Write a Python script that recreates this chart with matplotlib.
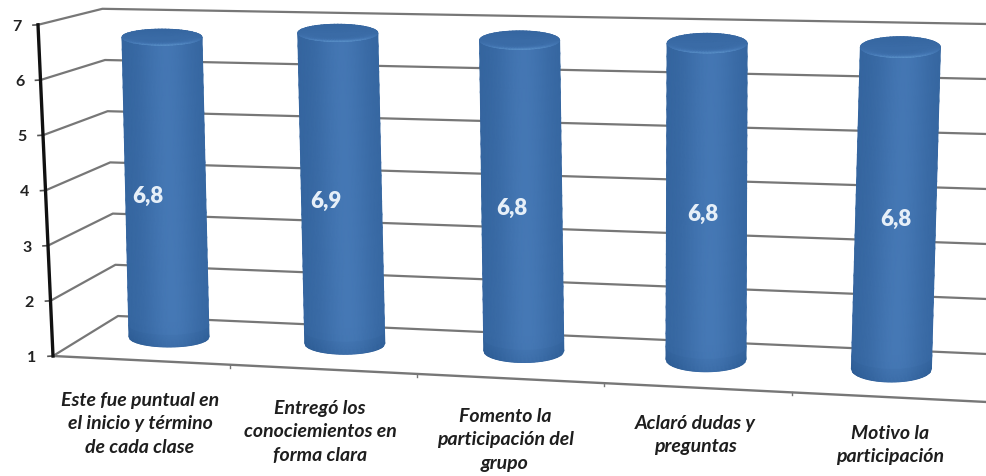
import numpy as np
import matplotlib
matplotlib.use("Agg")
import matplotlib.pyplot as plt
from matplotlib.colors import LinearSegmentedColormap

categories = [
    "Este fue puntual en\nel inicio y término\nde cada clase",
    "Entregó los\nconociemientos en\nforma clara",
    "Fomento la\nparticipación del\ngrupo",
    "Aclaró dudas y\npreguntas",
    "Motivo la\nparticipación",
]
values = [6.8, 6.9, 6.8, 6.8, 6.8]
value_labels = ["6,8", "6,9", "6,8", "6,8", "6,8"]
y_ticks = [1, 2, 3, 4, 5, 6, 7]

W, H = 987, 477
FONT = "Lato"

# --- perspective of the 3-D scene, in image pixels ---
def axis_pt(v):
    return 53 - 2.5 * (v - 1), 357 - 55.2 * (v - 1)
def wall_left(v):
    return 118 - 2.6 * (v - 1), 317 - 51.2 * (v - 1)
def wall_right_y(v):
    return 355 - 55.0 * (v - 1)
def bar_center(i, v):
    xb = 169 + 174.2 * i + 1.6 * i * i
    xt = 162 + 173.0 * i + 2.9 * i * i
    yb = 338 + 6.0 * i + 0.5 * i * i
    scale = 51.7 + 0.95 * i
    return xb + (xt - xb) * (v - 1) / 5.8, yb - scale * (v - 1)

fig = plt.figure(figsize=(W / 100, H / 100), dpi=100, facecolor="white")
ax = fig.add_axes([0, 0, 1, 1])
ax.set_xlim(0, W)
ax.set_ylim(H, 0)
ax.axis("off")

GRID = "#777777"
for v in y_ticks:
    ax0, ay0 = axis_pt(v)
    lx, ly = wall_left(v)
    ax.plot([ax0, lx, W], [ay0, ly, wall_right_y(v)], color=GRID, lw=1.6, zorder=1,
            solid_joinstyle="round")
    ax.plot([ax0 - 5, ax0], [ay0 + 0.3, ay0], color="#555555", lw=1.2, zorder=2)
    ax.text(ax0 - 21, ay0 + 1, str(v), ha="center", va="center", family=FONT,
            fontweight="bold", fontsize=11.5, color="#222222")

# floor front edge and left axis
ax.plot([53, W], [357, 403], color=GRID, lw=1.7, zorder=1)
for fx in [230, 417, 604, 792]:
    fy = 357 + (fx - 53) * 46 / 934
    ax.plot([fx, fx], [fy, fy + 3], color=GRID, lw=1, zorder=1)
p1, p7 = axis_pt(1), axis_pt(7)
ax.plot([p1[0], p7[0]], [p1[1], p7[1]], color="#111111", lw=2.4, zorder=3)

# --- cylinders ---
cmap = LinearSegmentedColormap.from_list(
    "cyl", ["#234f85", "#2f5f98", "#3a6ba6", "#4679b6", "#629acf"])
s = np.linspace(-1, 1, 61)
t = np.linspace(0, 1, 25)
for i, v in enumerate(values):
    hw = 40.0
    b = 8.0 + 0.6 * i
    cxb, cyb = bar_center(i, 1)
    cxt, cyt = bar_center(i, v)
    S, T = np.meshgrid(s, t)
    arc = np.sqrt(np.clip(1 - S ** 2, 0, 1))
    X = (cxb + (cxt - cxb) * T) + hw * S
    Y = (cyb + (cyt - cyb) * T) + b * arc * (1 + 0.25 * (1 - T))
    C = (0.34 + 0.36 * np.exp(-((S - 0.1) / 0.7) ** 2)
         + 0.04 * (1 - T) - 0.22 * np.exp(-T / 0.02))
    ax.pcolormesh(X, Y, C, cmap=cmap, vmin=0, vmax=1, shading="gouraud", zorder=4)

    # cap
    r = np.linspace(0, 1, 14)
    th = np.linspace(0, 2 * np.pi, 73)
    R, TH = np.meshgrid(r, th)
    XC = cxt + hw * R * np.cos(TH)
    YC = cyt + b * R * np.sin(TH)
    CC = 0.50 + 0.45 * np.clip(np.sin(TH), 0, 1) * R ** 5 - 0.10 * np.clip(-np.sin(TH), 0, 1) * R
    ax.pcolormesh(XC, YC, CC, cmap=cmap, vmin=0, vmax=1, shading="gouraud", zorder=5)

# --- value labels ---
value_label_dx = [-18, -16, -10, -4, 0]
value_label_dy = [6, 7, 9, 9, 8]
for i, lab in enumerate(value_labels):
    px, py = bar_center(i, 3.85)
    ax.text(px + value_label_dx[i], py + value_label_dy[i], lab, ha="center", va="center",
            family=FONT, fontweight="heavy", fontsize=16, color="#e6eff8", zorder=6)

# --- category labels ---
label_x = [140, 320, 505, 695, 890]
label_y = [424, 432, 440, 435, 445]
for lab, x, y in zip(categories, label_x, label_y):
    ax.text(x, y, lab, ha="center", va="center", family=FONT, style="italic",
            fontweight="bold", fontsize=14, color="#1e1e1e", linespacing=1.45, zorder=6)

fig.savefig("out.png", dpi=100)
